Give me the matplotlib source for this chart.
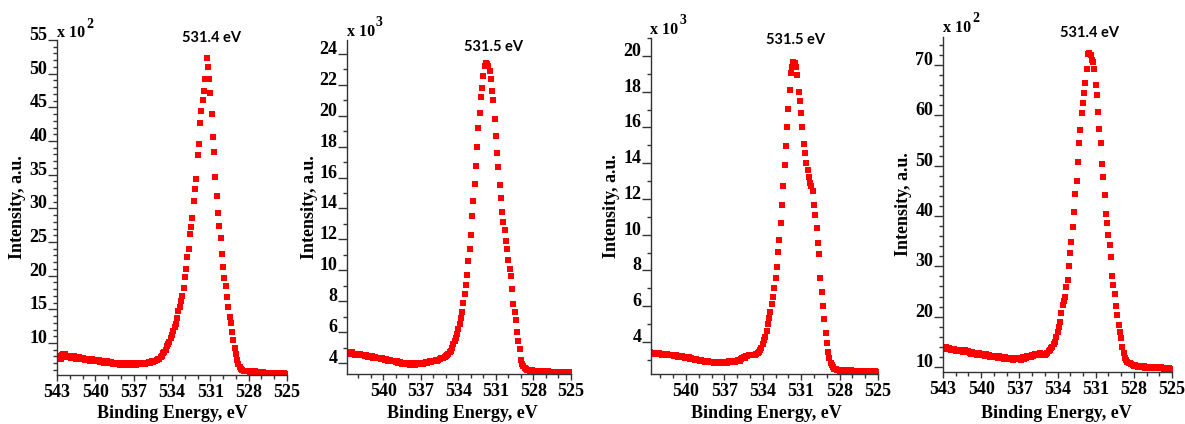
import numpy as np
import matplotlib
matplotlib.use("Agg")
import matplotlib.pyplot as plt
from matplotlib.ticker import MultipleLocator

# XPS O 1s scans, 0.1 eV step from 543 eV down to 525 eV
binding_energy = np.round(np.arange(543.0, 524.95, -0.1), 1)

# intensities in units of the axis multiplier (x10^2, x10^3, x10^3, x10^2)
o1s_a = [
    8.1, 7.8, 8.0, 7.7, 8.2, 8.4, 8.3, 8.0, 7.9, 8.1,
    8.0, 7.8, 7.9, 8.1, 7.9, 7.7, 7.8, 7.9, 7.7, 7.6,
    7.8, 7.7, 7.5, 7.6, 7.7, 7.5, 7.4, 7.6, 7.5, 7.4,
    7.5, 7.3, 7.4, 7.5, 7.2, 7.4, 7.3, 7.1, 7.2, 7.3,
    7.1, 7.0, 7.2, 7.1, 6.9, 7.0, 7.1, 6.9, 7.0, 6.8,
    7.0, 6.9, 6.8, 7.0, 6.9, 6.8, 6.9, 7.0, 6.8, 6.9,
    6.9, 7.0, 6.8, 6.9, 7.1, 7.0, 6.9, 7.1, 7.0, 6.9,
    7.1, 7.0, 7.2, 7.1, 7.3, 7.2, 7.4, 7.3, 7.5, 7.6,
    7.7, 7.9, 8.1, 8.5, 8.7, 9.0, 9.5, 9.8, 10.2, 10.8,
    11.2, 11.8, 12.4, 12.8, 13.7, 14.8, 15.3, 16.2, 17.0, 18.2,
    19.8, 21.0, 22.8, 24.0, 26.2, 27.3, 28.5, 31.1, 32.9, 34.4,
    37.9, 39.5, 42.6, 44.4, 46.1, 47.5, 49.2, 52.3, 51.0, 49.2,
    47.1, 44.0, 40.6, 38.4, 34.7, 31.8, 29.3, 27.4, 25.6, 23.2,
    21.3, 19.6, 18.4, 16.9, 15.3, 13.8, 12.9, 11.7, 10.5, 9.3,
    8.3, 7.5, 6.9, 6.4, 6.1, 6.0, 5.9, 5.8, 5.9, 5.8,
    5.8, 5.7, 5.8, 5.7, 5.7, 5.8, 5.6, 5.7, 5.7, 5.6,
    5.6, 5.7, 5.6, 5.6, 5.5, 5.6, 5.6, 5.5, 5.6, 5.5,
    5.5, 5.6, 5.5, 5.5, 5.4, 5.5, 5.5, 5.4, 5.5, 5.4,
    5.4,
]

o1s_b = [
    4.7, 4.65, 4.7, 4.6, 4.65, 4.7, 4.6, 4.55, 4.6, 4.6,
    4.55, 4.6, 4.5, 4.55, 4.5, 4.45, 4.5, 4.45, 4.4, 4.45,
    4.4, 4.45, 4.35, 4.4, 4.35, 4.3, 4.35, 4.3, 4.25, 4.3,
    4.25, 4.2, 4.25, 4.2, 4.15, 4.2, 4.1, 4.15, 4.1, 4.1,
    4.05, 4.1, 4.0, 4.05, 4.0, 3.95, 4.0, 3.95, 3.95, 4.0,
    3.95, 3.9, 3.95, 4.0, 3.95, 3.9, 3.95, 4.0, 3.95, 3.95,
    4.0, 3.95, 3.95, 4.0, 4.05, 4.0, 4.05, 4.1, 4.05, 4.1,
    4.1, 4.15, 4.2, 4.15, 4.2, 4.25, 4.3, 4.3, 4.35, 4.4,
    4.45, 4.5, 4.6, 4.7, 4.8, 5.0, 5.2, 5.4, 5.6, 5.9,
    6.2, 6.5, 6.9, 7.3, 7.9, 8.45, 9.05, 9.7, 10.6, 11.35,
    12.3, 13.5, 14.5, 15.6, 16.75, 18.0, 19.2, 20.2, 21.2, 21.8,
    22.6, 23.2, 23.4, 23.35, 23.2, 22.9, 22.4, 21.6, 21.0, 19.8,
    18.7, 17.6, 16.7, 15.5, 14.7, 13.8, 13.1, 12.6, 11.9, 11.35,
    10.65, 10.1, 9.6, 8.8, 7.85, 7.3, 6.8, 6.0, 5.4, 4.9,
    4.2, 3.95, 3.8, 3.7, 3.6, 3.55, 3.55, 3.5, 3.5, 3.55,
    3.5, 3.5, 3.45, 3.5, 3.5, 3.45, 3.5, 3.45, 3.45, 3.5,
    3.45, 3.45, 3.5, 3.45, 3.4, 3.45, 3.45, 3.4, 3.45, 3.4,
    3.45, 3.4, 3.4, 3.45, 3.4, 3.4, 3.35, 3.4, 3.4, 3.35,
    3.4,
]

o1s_c = [
    3.45, 3.4, 3.45, 3.4, 3.35, 3.4, 3.4, 3.35, 3.35, 3.4,
    3.35, 3.3, 3.35, 3.3, 3.3, 3.35, 3.25, 3.3, 3.25, 3.3,
    3.25, 3.2, 3.25, 3.2, 3.15, 3.2, 3.15, 3.2, 3.15, 3.1,
    3.15, 3.1, 3.15, 3.05, 3.1, 3.05, 3.05, 3.0, 3.05, 3.0,
    3.0, 2.95, 3.0, 2.95, 2.95, 2.9, 2.95, 2.95, 2.9, 2.9,
    2.9, 2.9, 2.85, 2.9, 2.9, 2.85, 2.9, 2.9, 2.85, 2.9,
    2.9, 2.9, 2.85, 2.9, 2.95, 2.9, 2.9, 2.95, 2.9, 2.95,
    2.95, 3.0, 2.95, 3.05, 3.1, 3.15, 3.1, 3.2, 3.2, 3.25,
    3.25, 3.3, 3.25, 3.3, 3.28, 3.32, 3.38, 3.46, 3.55, 3.65,
    3.9, 4.1, 4.3, 4.6, 5.0, 5.35, 5.7, 6.1, 6.5, 7.0,
    7.56, 8.2, 9.05, 9.7, 10.64, 11.66, 12.7, 13.9, 14.98, 16.0,
    17.03, 18.1, 19.03, 19.4, 19.68, 19.6, 19.4, 18.94, 18.0, 17.45,
    16.8, 16.0, 15.1, 14.55, 14.0, 13.6, 13.25, 12.9, 12.7, 12.45,
    11.66, 11.1, 10.36, 9.55, 8.9, 7.56, 6.8, 6.0, 5.27, 4.5,
    3.93, 3.46, 3.1, 2.85, 2.7, 2.6, 2.5, 2.5, 2.45, 2.45,
    2.4, 2.45, 2.4, 2.4, 2.45, 2.4, 2.4, 2.35, 2.4, 2.45,
    2.4, 2.4, 2.35, 2.4, 2.4, 2.35, 2.4, 2.35, 2.35, 2.4,
    2.35, 2.4, 2.35, 2.35, 2.3, 2.35, 2.35, 2.3, 2.35, 2.3,
    2.3,
]

o1s_d = [
    13.9, 13.6, 14.0, 13.7, 13.5, 13.8, 13.4, 13.6, 13.3, 13.5,
    13.2, 13.4, 13.3, 13.1, 13.4, 13.2, 13.0, 13.3, 13.1, 12.9,
    13.2, 12.8, 12.6, 12.9, 12.5, 12.8, 12.6, 12.4, 12.7, 12.5,
    12.3, 12.6, 12.4, 12.2, 12.5, 12.1, 12.3, 12.0, 12.2, 12.1,
    11.9, 12.2, 12.0, 11.8, 12.1, 11.7, 11.9, 11.8, 11.6, 11.9,
    11.7, 11.5, 11.8, 11.6, 11.7, 11.4, 11.6, 11.8, 11.5, 11.7,
    11.6, 11.4, 11.7, 11.9, 11.6, 11.8, 12.1, 11.9, 12.2, 12.0,
    12.3, 12.1, 12.5, 12.3, 12.6, 12.4, 12.7, 12.5, 12.4, 12.6,
    12.3, 12.5, 12.8, 13.1, 13.4, 13.7, 14.0, 14.5, 15.0, 16.0,
    17.0, 18.0, 19.0, 20.7, 22.3, 23.1, 24.0, 25.8, 27.3, 30.1,
    32.6, 34.8, 37.9, 40.9, 44.4, 47.0, 50.8, 54.6, 57.2, 60.5,
    62.4, 64.4, 66.4, 69.3, 72.3, 72.5, 72.0, 71.0, 70.7, 69.3,
    66.0, 64.0, 60.7, 57.4, 54.6, 50.3, 47.7, 44.1, 40.4, 38.7,
    36.2, 34.2, 31.9, 28.1, 26.3, 24.5, 22.1, 20.3, 18.3, 17.0,
    15.7, 14.0, 12.7, 11.7, 11.3, 11.0, 10.8, 10.7, 10.5, 10.3,
    10.2, 10.3, 10.1, 10.0, 10.2, 9.9, 10.0, 9.9, 10.1, 9.8,
    9.9, 9.8, 10.0, 9.8, 9.7, 9.9, 9.8, 10.0, 9.9, 9.7,
    9.8, 9.9, 9.7, 9.8, 9.6, 9.8, 9.7, 9.6, 9.7, 9.5,
    9.6,
]

peak_labels = ["531.4 eV", "531.5 eV", "531.5 eV", "531.4 eV"]
exponents = ["2", "3", "3", "2"]
x_ticks_a = [543, 540, 537, 534, 531, 528, 525]
x_ticks_b = [540, 537, 534, 531, 528, 525]

W, H = 1185, 424
fig = plt.figure(figsize=(W / 100, H / 100), dpi=100)


def fx(x):
    return x / W


def fy(y):
    return 1 - y / H


SERIF = "Liberation Serif"
AXCOL = "#333333"

# layout in pixels: axes box (left, top, right, bottom), limits, ticks, text spots
panels = [
    dict(data=o1s_a, box=(57, 40, 287, 375), xlim=(543, 525), ylim=(5.25, 55),
         yticks=np.arange(10, 56, 5), yminor=1, xticks=x_ticks_a,
         peak=(212, 38), mult=(57, 33), ylab=18, xlab=172),
    dict(data=o1s_b, box=(347, 40, 571, 374), xlim=(542.9, 525), ylim=(3.29, 24.9),
         yticks=np.arange(4, 25, 2), yminor=1, xticks=x_ticks_b,
         peak=(493, 47), mult=(347, 32), ylab=309, xlab=462),
    dict(data=o1s_c, box=(651, 38, 878, 374), xlim=(542.73, 525), ylim=(2.21, 21.0),
         yticks=np.arange(4, 21, 2), yminor=1, xticks=x_ticks_b,
         peak=(795, 40), mult=(650, 30), ylab=612, xlab=766),
    dict(data=o1s_d, box=(943, 37, 1172, 372), xlim=(543, 525), ylim=(9.0, 75.6),
         yticks=np.arange(10, 71, 10), yminor=2, xticks=x_ticks_a,
         peak=(1089, 33), mult=(943, 28), ylab=904, xlab=1056),
]

for p, label, exp in zip(panels, peak_labels, exponents):
    l, t, r, b = p["box"]
    ax = fig.add_axes([fx(l), fy(b), (r - l) / W, (b - t) / H])
    ax.plot(binding_energy, p["data"], linestyle="none", marker="s",
            markersize=4.6, color="#ff0000", markeredgewidth=0)
    ax.set_xlim(*p["xlim"])
    ax.set_ylim(*p["ylim"])
    for side in ("top", "right"):
        ax.spines[side].set_visible(False)
    for side in ("left", "bottom"):
        ax.spines[side].set_color(AXCOL)
        ax.spines[side].set_linewidth(1.0)

    ax.set_xticks(p["xticks"])
    ax.xaxis.set_minor_locator(MultipleLocator(1))
    ax.set_yticks(p["yticks"])
    ax.yaxis.set_minor_locator(MultipleLocator(p["yminor"]))
    ax.tick_params(axis="x", which="major", direction="out", length=4, width=1,
                   color=AXCOL, pad=2.5)
    ax.tick_params(axis="x", which="minor", direction="out", length=3, width=1,
                   color=AXCOL)
    ax.tick_params(axis="y", which="major", direction="out", length=6.5, width=1,
                   color=AXCOL, pad=0.5)
    ax.tick_params(axis="y", which="minor", direction="out", length=3, width=1,
                   color=AXCOL)
    for lab in ax.get_xticklabels() + ax.get_yticklabels():
        lab.set_fontfamily(SERIF)
        lab.set_fontweight("bold")
        lab.set_fontsize(13)
    for lab in ax.get_yticklabels():
        lab.set_verticalalignment("baseline")

    # peak position label
    fig.text(fx(p["peak"][0]), fy(p["peak"][1]), label, ha="center", va="center",
             fontfamily="Lato", fontweight="bold", fontsize=10.5)
    # axis multiplier
    mx, my = p["mult"]
    fig.text(fx(mx), fy(my), "x 10", ha="left", va="center",
             fontfamily=SERIF, fontweight="bold", fontsize=11.5)
    fig.text(fx(mx + 29), fy(my - 9), exp, ha="left", va="center",
             fontfamily=SERIF, fontweight="bold", fontsize=10)

    fig.text(fx(p["ylab"]), fy((t + b) / 2), "Intensity, a.u.", rotation=90,
             ha="center", va="center", fontfamily=SERIF, fontweight="bold",
             fontsize=13)
    fig.text(fx(p["xlab"]), fy(413), "Binding Energy, eV", ha="center",
             va="center", fontfamily=SERIF, fontweight="bold", fontsize=13)

fig.savefig("out.png", dpi=100)
